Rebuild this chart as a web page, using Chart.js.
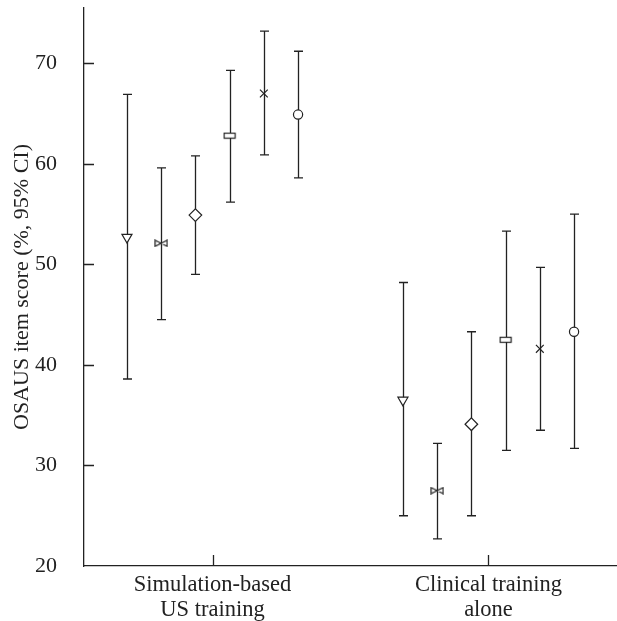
<!DOCTYPE html>
<html>
<head>
<meta charset="utf-8">
<script src="https://cdn.jsdelivr.net/npm/chart.js@4.4.0/dist/chart.umd.min.js"></script>
<style>
  body { margin: 0; background: #fff; }
  #wrap { width: 617px; height: 621px; }
</style>
</head>
<body>
<div id="wrap"><canvas id="myChart" width="617" height="621"></canvas></div>
<script>
// groups on the x axis
const groups = [["Simulation-based", "US training"], ["Clinical training", "alone"]];
const yTicks = [20, 30, 40, 50, 60, 70];

// one entry per marker type, values for [simulation, clinical]
const means = [
  [52.7, 36.5],
  [52.1, 27.5],
  [54.9, 34.1],
  [62.8, 42.5],
  [67.0, 41.6],
  [64.9, 43.3]
];
const lower = [
  [38.6, 25.0],
  [44.5, 22.7],
  [49.0, 25.0],
  [56.2, 31.5],
  [60.9, 33.5],
  [58.6, 31.7]
];
const upper = [
  [66.9, 48.2],
  [59.6, 32.2],
  [60.8, 43.3],
  [69.3, 53.3],
  [73.2, 49.7],
  [71.2, 55.0]
];

const ink = "#222";
const font = "'Liberation Serif', 'DejaVu Serif', serif";
const dodge = 0.124;

function shapeCanvas(w, h, draw) {
  const c = document.createElement("canvas");
  c.width = w; c.height = h;
  const g = c.getContext("2d");
  g.strokeStyle = ink;
  g.fillStyle = "#fff";
  g.lineWidth = 1.2;
  draw(g);
  return c;
}

const bowtie = shapeCanvas(14, 8, g => {
  g.beginPath();
  g.moveTo(1, 1); g.lineTo(13, 7); g.lineTo(13, 1); g.lineTo(1, 7); g.closePath();
  g.fill(); g.stroke();
});
const box = shapeCanvas(14, 8, g => {
  g.fillRect(1, 1, 12, 6);
  g.strokeRect(1.5, 1.5, 11, 5);
});

const styles = [
  { pointStyle: "triangle", rotation: 180, radius: 5.8 },
  { pointStyle: bowtie, rotation: 0, radius: 6 },
  { pointStyle: "rectRot", rotation: 0, radius: 6.3 },
  { pointStyle: box, rotation: 0, radius: 6 },
  { pointStyle: "crossRot", rotation: 0, radius: 5.5 },
  { pointStyle: "circle", rotation: 0, radius: 4.6 }
];

const datasets = means.map((m, i) => ({
  data: m.map((v, g) => ({ x: g + 1 + (i - 2.5) * dodge, y: v, lo: lower[i][g], hi: upper[i][g] })),
  pointStyle: styles[i].pointStyle,
  rotation: styles[i].rotation,
  pointRadius: styles[i].radius,
  pointBackgroundColor: "#fff",
  pointBorderColor: ink,
  pointBorderWidth: 1.2,
  showLine: false,
  clip: false
}));

// error bars and inward tick marks
const extras = {
  id: "extras",
  beforeDatasetsDraw(chart) {
    const ctx = chart.ctx;
    const xs = chart.scales.x, ys = chart.scales.y;
    ctx.save();
    ctx.strokeStyle = ink;
    ctx.lineWidth = 1.3;
    chart.data.datasets.forEach(ds => {
      ds.data.forEach(p => {
        const x = Math.round(xs.getPixelForValue(p.x)) + 0.5;
        const t = ys.getPixelForValue(p.hi), b = ys.getPixelForValue(p.lo);
        ctx.beginPath();
        ctx.moveTo(x, t); ctx.lineTo(x, b);
        ctx.moveTo(x - 4.5, t); ctx.lineTo(x + 4.5, t);
        ctx.moveTo(x - 4.5, b); ctx.lineTo(x + 4.5, b);
        ctx.stroke();
      });
    });
    const ca = chart.chartArea;
    ctx.beginPath();
    yTicks.slice(1).forEach(v => {
      const y = Math.round(ys.getPixelForValue(v)) + 0.5;
      ctx.moveTo(ca.left, y); ctx.lineTo(ca.left + 10, y);
    });
    groups.forEach((g, i) => {
      const x = Math.round(xs.getPixelForValue(i + 1)) + 0.5;
      ctx.moveTo(x, ca.bottom); ctx.lineTo(x, ca.bottom - 11);
    });
    ctx.stroke();
    ctx.restore();
  }
};

// tick padding would otherwise be added to the chart area margins
function noEdgePadding(s) {
  s.paddingTop = 0; s.paddingBottom = 0;
  s.paddingLeft = 0; s.paddingRight = 0;
}

new Chart(document.getElementById("myChart"), {
  type: "scatter",
  data: { datasets: datasets },
  options: {
    responsive: false,
    animation: false,
    layout: { autoPadding: false, padding: { top: 8, right: 0, left: 0, bottom: 0 } },
    plugins: { legend: { display: false }, tooltip: { enabled: false } },
    scales: {
      x: {
        type: "linear",
        min: 0.5344,
        max: 2.4656,
        afterBuildTicks: s => { s.ticks = groups.map((g, i) => ({ value: i + 1 })); },
        afterFit: s => { s.height = 55; noEdgePadding(s); },
        ticks: {
          callback: (v) => groups[Math.round(v) - 1],
          color: ink,
          font: { family: font, size: 22.5, lineHeight: 1.13 },
          padding: 6,
          maxRotation: 0,
          autoSkip: false
        },
        grid: { drawOnChartArea: false, drawTicks: false },
        border: { color: ink, width: 1.3 }
      },
      y: {
        min: 20,
        max: 75.5,
        afterBuildTicks: s => { s.ticks = yTicks.map(v => ({ value: v })); },
        afterFit: s => { s.width = 84; noEdgePadding(s); },
        ticks: {
          color: ink,
          font: { family: font, size: 22 },
          padding: 27
        },
        grid: { drawOnChartArea: false, drawTicks: false },
        border: { color: ink, width: 1.3 },
        title: {
          display: true,
          text: "OSAUS item score (%, 95% CI)",
          color: ink,
          font: { family: font, size: 22, lineHeight: 1.2 },
          padding: { top: 9, bottom: 0 }
        }
      }
    }
  },
  plugins: [extras]
});
</script>
</body>
</html>
